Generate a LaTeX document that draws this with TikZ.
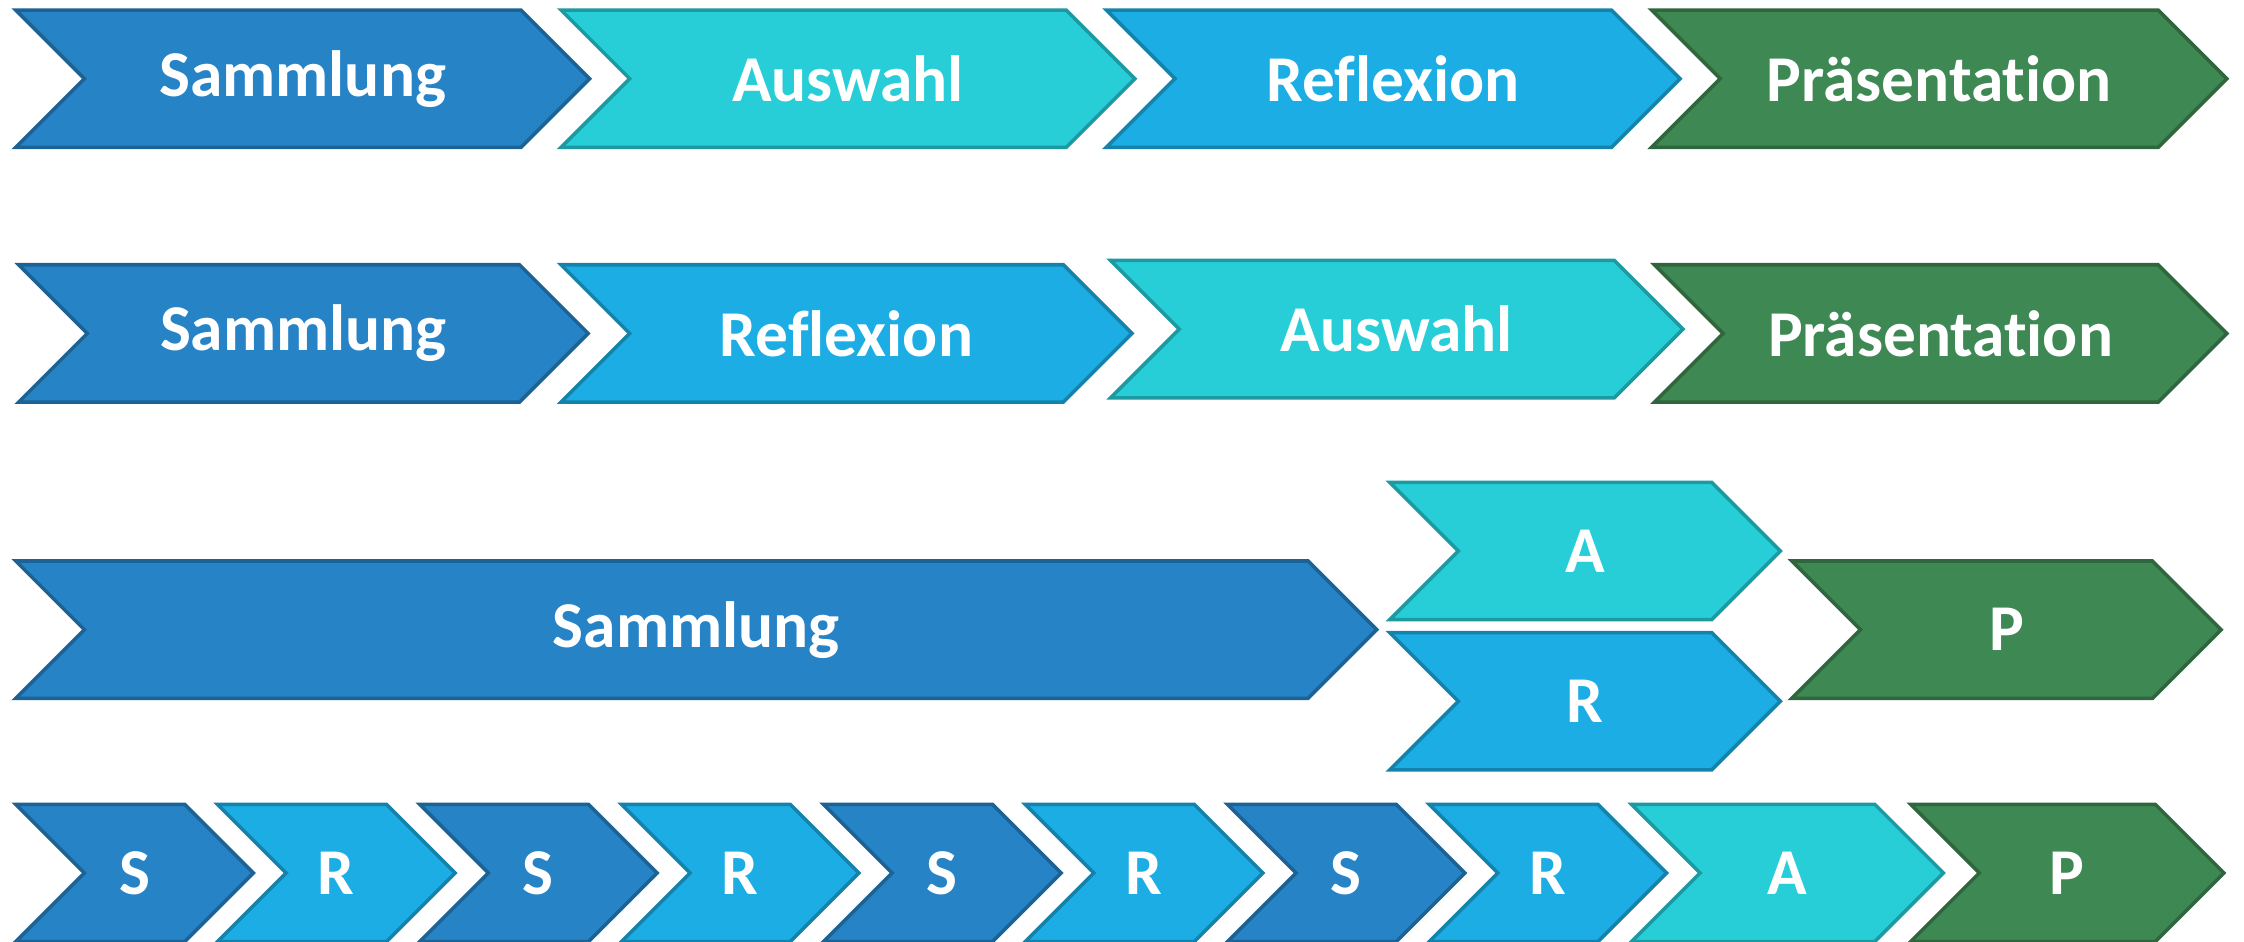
\documentclass[tikz,border=0pt]{standalone}
\usepackage{fontspec}
\setmainfont[Ligatures=NoCommon]{Carlito}
\definecolor{samml}{HTML}{2683C6}
\definecolor{refl}{HTML}{1CADE4}
\definecolor{ausw}{HTML}{27CED7}
\definecolor{praes}{HTML}{3E8853}
\tikzset{
  chev/.style={line width=1.4pt, line join=miter},
  lbl/.style={text=white, font=\fontsize{26}{30}\selectfont\bfseries, inner sep=0pt}
}
% name, left x, tip x, middle y, colour, text
\newcommand{\chev}[6]{%
  \draw[chev, fill=#5, draw=#5!75!black] (#2,#4-48) -- (#3-48,#4-48) -- (#3,#4)
    -- (#3-48,#4+48) -- (#2,#4+48) -- (#2+48,#4) -- cycle;
  \node[lbl] (#1) at ({(#2+#3)/2},#4) {#6};
}
\begin{document}
\begin{tikzpicture}[x=0.02cm, y=-0.02cm]
    \useasboundingbox (0,0) rectangle (1568,658);
    % first row
    \chev{s1}{11}{412}{55}{samml}{Sammlung}
    \chev{a1}{392}{793}{55}{ausw}{Auswahl}
    \chev{r1}{773}{1174}{55}{refl}{Reflexion}
    \chev{p1}{1154}{1556}{55}{praes}{Präsentation}
    % second row
    \chev{s2}{13}{411}{233}{samml}{Sammlung}
    \chev{r2}{392}{791}{233}{refl}{Reflexion}
    \chev{a2}{776}{1176}{230}{ausw}{Auswahl}
    \chev{p2}{1156}{1556}{233}{praes}{Präsentation}
    % third row
    \chev{s3}{11}{962}{440}{samml}{Sammlung}
    \chev{a3}{971}{1244}{385}{ausw}{A}
    \chev{r3}{971}{1244}{490}{refl}{R}
    \chev{p3}{1252}{1552}{440}{praes}{P}
    % fourth row
    \foreach \i in {0,...,3}{
        \chev{s4\i}{11+282.2*\i}{177+282.2*\i}{610}{samml}{S}
        \chev{r4\i}{152+282.2*\i}{318+282.2*\i}{610}{refl}{R}
    }
    \chev{a4}{1140}{1358}{610}{ausw}{A}
    \chev{p4}{1335}{1554}{610}{praes}{P}
\end{tikzpicture}
\end{document}
